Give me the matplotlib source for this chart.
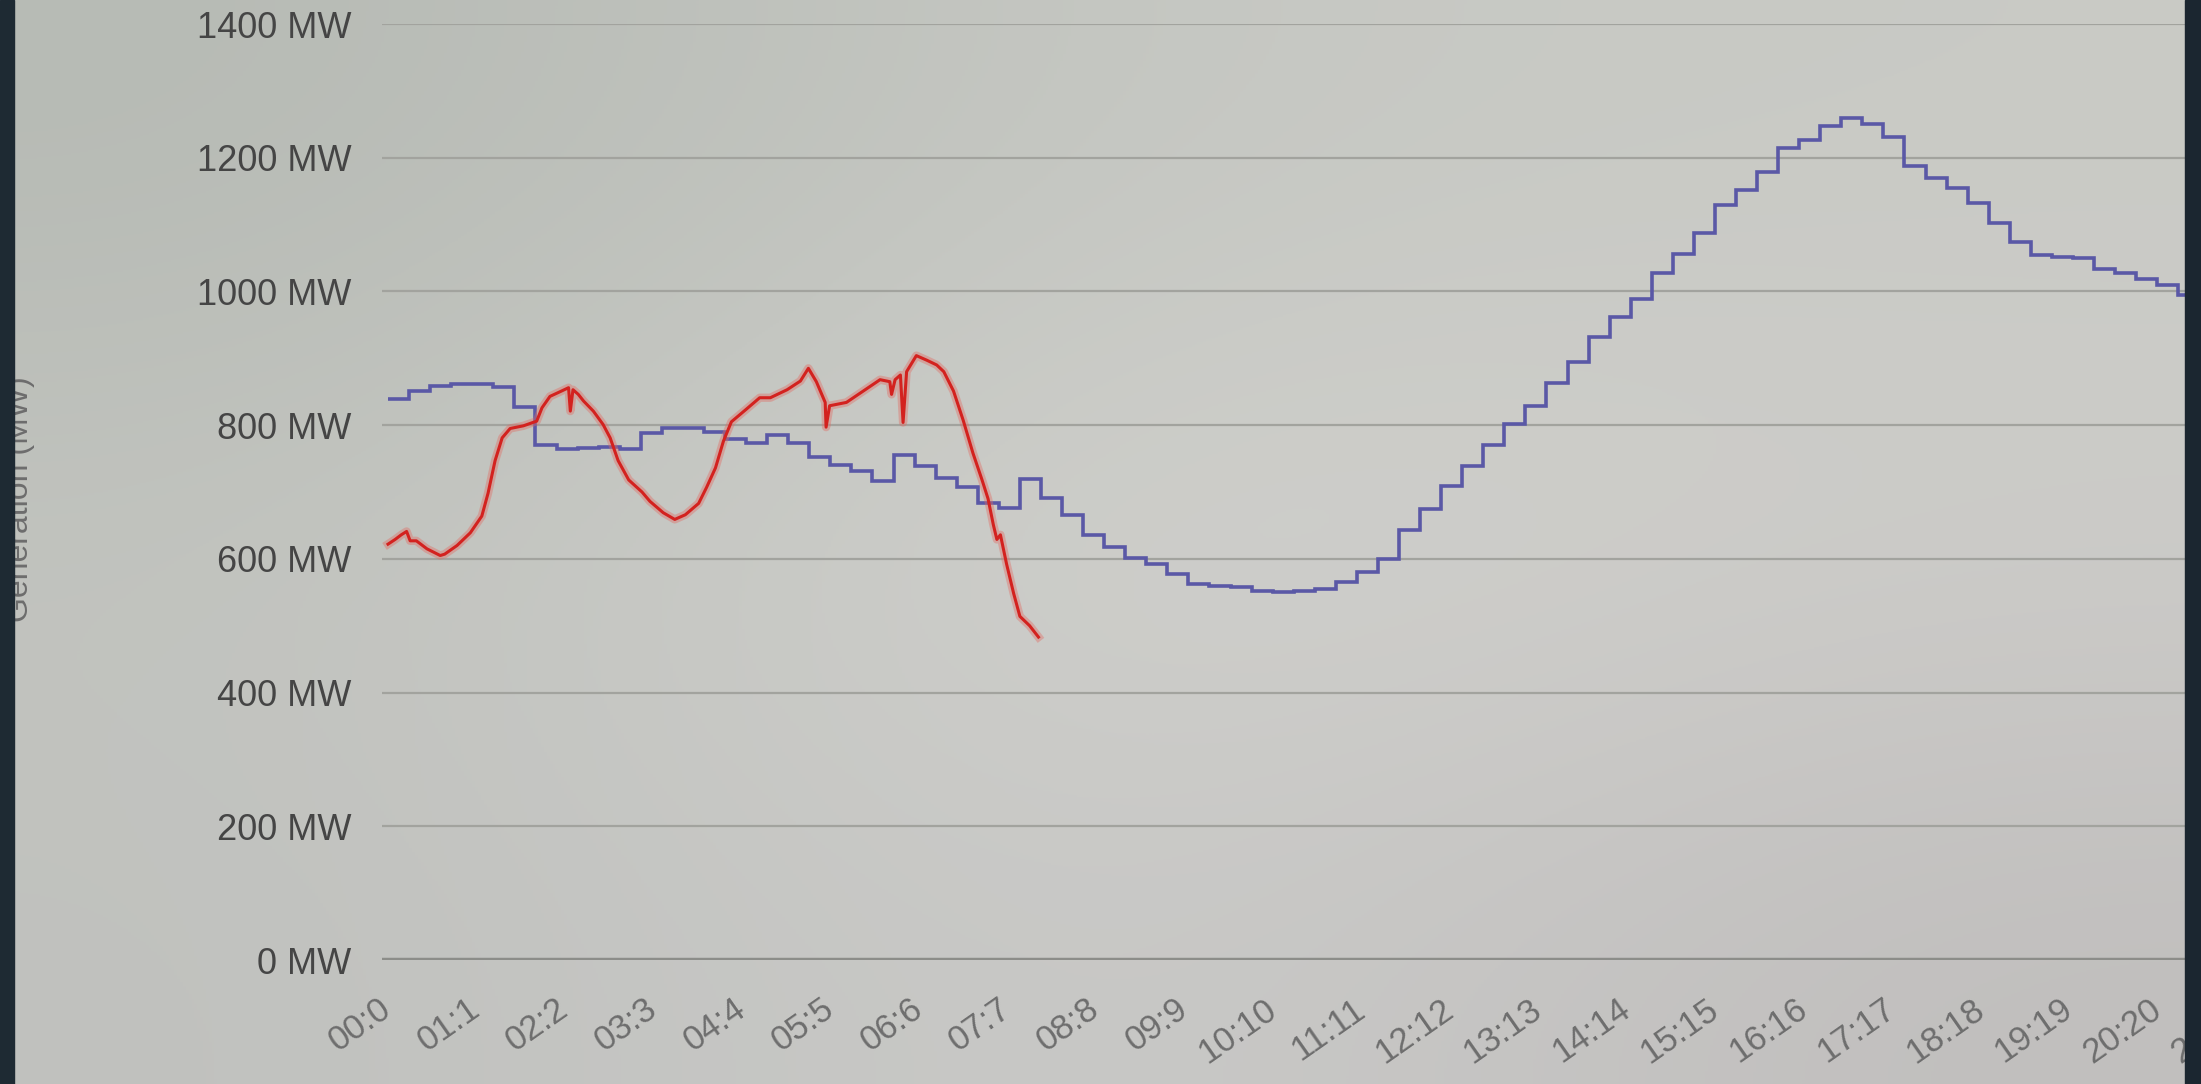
import numpy as np
import matplotlib.pyplot as plt
from matplotlib.patches import Rectangle

plt.rcParams['font.family'] = ['Liberation Sans', 'DejaVu Sans']

HOURS = list(range(0, 22))
HOUR_LABELS = [f"{h:02d}:{h}" for h in HOURS]
Y_TICKS = [0, 200, 400, 600, 800, 1000, 1200, 1400]
Y_LABELS = [f"{v} MW" for v in Y_TICKS]

# blue: forecast, one value per interval
FORECAST_STEP_H = 0.238
forecast_mw = [839, 851, 859, 862, 861, 857, 827, 770, 764, 766,
               768, 765, 788, 795, 795, 790, 779, 774, 785, 773,
               753, 741, 731, 716, 755, 739, 721, 707, 684, 676,
               720, 691, 665, 635, 617, 602, 592, 577, 563, 560,
               558, 552, 551, 552, 555, 566, 581, 600, 643, 675,
               709, 739, 771, 801, 828, 863, 895, 932, 962, 989,
               1028, 1056, 1088, 1130, 1152, 1179, 1214, 1227, 1247, 1259,
               1251, 1231, 1188, 1170, 1154, 1132, 1102, 1074, 1054, 1052,
               1050, 1034, 1028, 1018, 1010, 995]

# red: actual generation (hours, MW)
actual_t = [0.00, 0.08, 0.15, 0.21, 0.25, 0.32, 0.44, 0.59, 0.64, 0.78,
            0.93, 1.06, 1.13, 1.21, 1.29, 1.38, 1.53, 1.68, 1.74, 1.83,
            1.96, 2.04, 2.06, 2.09, 2.15, 2.21, 2.32, 2.43, 2.51, 2.60,
            2.72, 2.87, 2.96, 3.11, 3.24, 3.36, 3.51, 3.60, 3.70, 3.79,
            3.88, 4.05, 4.20, 4.32, 4.51, 4.66, 4.75, 4.84, 4.94, 4.95,
            4.99, 5.18, 5.37, 5.56, 5.67, 5.69, 5.73, 5.79, 5.82, 5.86,
            5.97, 6.09, 6.20, 6.28, 6.39, 6.50, 6.61, 6.71, 6.78, 6.84,
            6.88, 6.92, 6.99, 7.07, 7.14, 7.25, 7.35]
actual_mw = [622, 629, 636, 641, 627, 627, 615, 605, 607, 620,
             639, 664, 698, 747, 781, 795, 799, 806, 826, 843,
             851, 856, 821, 853, 846, 836, 821, 801, 781, 747,
             718, 700, 686, 669, 659, 666, 683, 707, 736, 776,
             805, 824, 841, 841, 853, 866, 885, 865, 834, 797,
             829, 834, 851, 868, 865, 846, 868, 875, 804, 880,
             904, 897, 890, 880, 851, 807, 758, 719, 690, 651,
             629, 636, 592, 548, 514, 500, 483]

W, H = 2201, 1084
fig = plt.figure(figsize=(W / 100, H / 100), dpi=100)

# uneven lighting of the photographed screen
shade = np.array([
    [[182, 186, 180], [198, 200, 195], [201, 202, 197]],
    [[194, 196, 191], [211, 211, 207], [206, 205, 202]],
    [[192, 193, 190], [203, 203, 201], [192, 190, 189]],
]) / 255
bg = fig.add_axes([0, 0, 1, 1], zorder=-10)
bg.imshow(shade, extent=[0, 1, 0, 1], aspect='auto', interpolation='bicubic')
bg.set_axis_off()

ax = fig.add_axes([382 / W, 1 - 960 / H, (2273 - 382) / W, (960 - 24) / H])
ax.set_facecolor('none')
ax.set_xlim(-0.068, 21.3)
ax.set_ylim(0, 1400)

ax.set_yticks(Y_TICKS, Y_LABELS)
ax.yaxis.grid(True, color='#a2a39e', lw=1.6)
ax.axhline(0, color='#8c8d89', lw=3.2, zorder=1)

edges = np.arange(len(forecast_mw) + 1) * FORECAST_STEP_H
ax.stairs(forecast_mw, edges, baseline=None, color='#5a58a6', lw=2.6, zorder=3)

ax.plot(actual_t, actual_mw, color='#e26a62', lw=6, alpha=0.4, zorder=4)
ax.plot(actual_t, actual_mw, color='#d3221f', lw=2.2, zorder=5)

ax.set_xticks(HOURS, HOUR_LABELS, rotation=35, ha='right', va='center',
              rotation_mode='anchor')
ax.tick_params(axis='x', length=0, pad=33, labelsize=25, labelcolor='#6e6e6e')
ax.tick_params(axis='y', length=0, pad=22, labelsize=26, labelcolor='#454545')
for s in ax.spines.values():
    s.set_visible(False)
ax.set_axisbelow(True)

fig.text(20 / W, 0.54, 'Generation (MW)', rotation=90, ha='center', va='center',
         fontsize=23, color='#6d6d6d')

# dark edges of the monitor in the photo
fig.add_artist(Rectangle((0, 0), 14 / W, 1, transform=fig.transFigure,
                         color='#1e2a33', zorder=20))
fig.add_artist(Rectangle((2185 / W, 0), (W - 2185) / W, 1, transform=fig.transFigure,
                         color='#1b2630', zorder=20))

fig.savefig('out.png', dpi=100)
